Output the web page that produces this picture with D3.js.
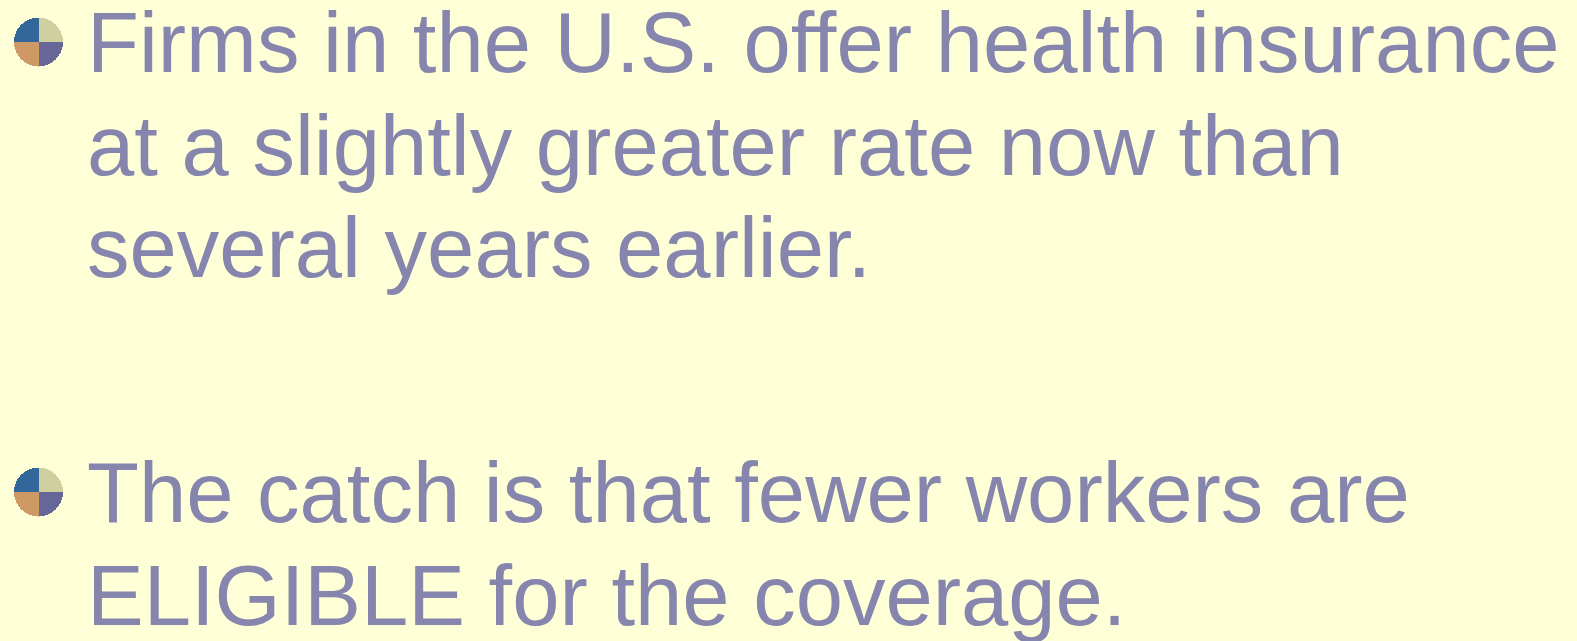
<!DOCTYPE html>
<html>
<head>
<meta charset="utf-8">
<script src="https://cdn.jsdelivr.net/npm/d3@7"></script>
<style>
  html, body { margin: 0; padding: 0; background: #ffffd7; }
  svg { display: block; }
</style>
</head>
<body>
<div id="canvas"></div>
<script>
var bullets = [
    ['Firms in the U.S. offer health insurance', 'at a slightly greater rate now than', 'several years earlier.'],
    ['The catch is that fewer workers are', 'ELIGIBLE for the coverage.']
];
var slices = [1, 1, 1, 1];
var sliceColors = ['#cfcf9f', '#666699', '#cf9966', '#336699'];

var width = 1577, height = 641;

var canvas = d3.select('#canvas').append('svg')
    .attr('width', width)
    .attr('height', height);

canvas.append('rect')
    .attr('width', width)
    .attr('height', height)
    .attr('fill', '#ffffd7');

// baseline of first line in each bullet, line step
var bulletTop = [72, 522];
var lineStep = 102.5;

var pie = d3.pie().sort(null).value(function(d) { return d; });
var arc = d3.arc().innerRadius(0).outerRadius(24.5);

bullets.forEach(function(lines, b) {
    var g = canvas.append('g')
        .attr('transform', 'translate(38.5,' + (bulletTop[b] - 30) + ')');
    g.selectAll('path')
        .data(pie(slices))
        .enter()
        .append('path')
        .attr('d', arc)
        .attr('shape-rendering', 'crispEdges')
        .attr('fill', function(d, i) { return sliceColors[i]; });

    canvas.append('g').selectAll('text')
        .data(lines)
        .enter()
        .append('text')
        .attr('x', 87)
        .attr('y', function(d, i) { return bulletTop[b] + i * lineStep; })
        .attr('font-family', 'Liberation Sans, Arial, sans-serif')
        .attr('font-size', '85px')
        .attr('fill', '#8585ad')
        .text(function(d) { return d; });
});
</script>
</body>
</html>
